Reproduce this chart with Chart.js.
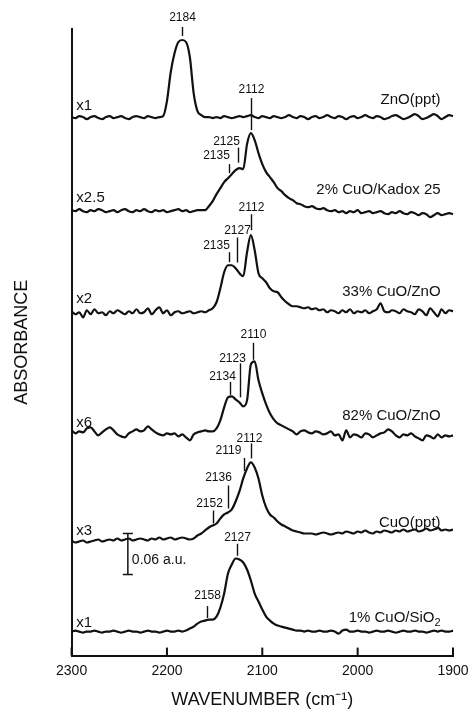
<!DOCTYPE html>
<html>
<head>
<meta charset="utf-8">
<script src="https://cdn.jsdelivr.net/npm/chart.js@4/dist/chart.umd.min.js"></script>
<style>
  html, body { margin: 0; padding: 0; background: #fff; }
</style>
</head>
<body>
<canvas id="irChart" width="470" height="712"></canvas>
<script>
// wavenumber grid (cm-1), shared by all spectra
const wavenumbers = [
  2300, 2296, 2292, 2288, 2284, 2280, 2276, 2272, 2268, 2264,
  2260, 2256, 2252, 2248, 2244, 2240, 2236, 2232, 2228, 2224,
  2220, 2216, 2212, 2208, 2204, 2200, 2196, 2192, 2188, 2184,
  2180, 2176, 2172, 2168, 2164, 2160, 2156, 2152, 2148, 2144,
  2140, 2136, 2132, 2128, 2124, 2120, 2116, 2112, 2108, 2104,
  2100, 2096, 2092, 2088, 2084, 2080, 2076, 2072, 2068, 2064,
  2060, 2056, 2052, 2048, 2044, 2040, 2036, 2032, 2028, 2024,
  2020, 2016, 2012, 2008, 2004, 2000, 1996, 1992, 1988, 1984,
  1980, 1976, 1972, 1968, 1964, 1960, 1956, 1952, 1948, 1944,
  1940, 1936, 1932, 1928, 1924, 1920, 1916, 1912, 1908, 1904,
  1900
];

// absorbance above each trace's own baseline (scaled as plotted)
const znoPpt = [
  0, -1, 1, 0, -2, 0, 1, -1, -2, 0,
  1, -1, 0, 1, -1, -2, 0, 1, 0, -1,
  1, 0, -1, 0, 1, 16, 45, 64, 75, 77,
  75, 60, 24, 6, 2, 0, 0, -1, 0, -1,
  1, 0, -1, 0, 1, 0, 1, 2, 0, -1,
  1, 0, -1, 1, 0, -1, 0, 2, 0, -1,
  1, 0, -2, 0, 1, -1, 0, 2, 0, -1,
  1, 0, -2, 0, 1, -1, 0, 2, 0, -1,
  1, 0, -2, -1, 1, 2, 0, -2, -1, 1,
  3, 1, -2, -1, 1, 3, 1, -2, 0, 2,
  1
];
const cuoKadox = [
  1, 0, 2, 0, -1, 1, 0, 2, 1, -1,
  0, 1, -1, 1, 2, 0, -1, 1, 0, 2,
  0, -1, 1, 0, 1, -1, 0, 1, 2, 0,
  1, -1, 0, 1, 1, 1, 5, 10, 17, 23,
  29, 33, 37, 41, 43, 42, 67, 78, 71, 58,
  47, 39, 34, 29, 23, 20, 16, 13, 11, 8,
  7, 5, 4, 5, 3, 2, 3, 1, 0, 1,
  -1, 0, -2, 0, -1, 1, -2, -1, 0, -2,
  -1, 0, -2, -3, -1, -2, 0, -2, -3, -1,
  -2, -4, -2, -3, -6, -4, -2, -4, -3, -2,
  -3
];
const cuo33Zno = [
  1, -2, 0, -5, 2, -2, 3, -1, 0, -3,
  1, -1, 2, 0, -2, 1, -1, 3, -1, 0,
  4, -2, 2, 5, -1, 2, -3, 0, 1, -1,
  0, 1, -1, 0, 1, 0, 2, 4, 10, 24,
  40, 47, 47, 44, 39, 36, 60, 77, 62, 39,
  34, 30, 24, 21, 20, 15, 11, 8, 6, 6,
  5, 4, 5, 3, 4, 2, 3, 0, 2, 1,
  -1, 2, 0, 3, -1, 1, 0, 2, -1, 1,
  3, 9, 1, 0, 2, 1, -1, 3, 1, 0,
  -2, 3, 1, -3, 4, 0, -4, 3, -1, 2,
  1
];
const cuo82Zno = [
  2, -1, 1, 0, 4, 5, 1, -3, 0, 3,
  5, 2, -2, -4, -5, -1, 1, 3, 1, 2,
  6, 3, 0, -2, -3, -1, -2, -1, -4, -2,
  -5, -8, -2, 0, 1, 2, 1, 1, 4, 12,
  25, 35, 36, 33, 30, 26, 32, 68, 71, 52,
  39, 28, 19, 13, 9, 7, 5, 3, 1, -2,
  1, 2, 0, -1, 1, 0, -2, -1, 1, -3,
  -2, -8, 2, -5, -2, -3, -5, -1, -2, -5,
  -3, -1, 0, 3, 1, -3, -5, -2, -3, -1,
  -4, -6, -8, -3, -4, -6, -2, -5, -3, -4,
  -3
];
const cuoPpt = [
  0, -2, -1, 0, -2, -1, 0, 1, -1, 0,
  1, 0, 2, 0, 1, 2, 0, 1, 2, 1,
  0, 2, 1, 3, 1, 2, 3, 1, 2, 3,
  2, 1, 2, 5, 7, 10, 13, 15, 17, 22,
  26, 28, 31, 39, 49, 62, 72, 78, 73, 62,
  45, 33, 26, 23, 19, 16, 14, 12, 10, 9,
  8, 7, 7, 7, 6, 7, 8, 7, 6, 7,
  8, 7, 9, 8, 7, 9, 8, 10, 8, 7,
  9, 8, 10, 9, 8, 10, 9, 11, 9, 10,
  11, 9, 10, 12, 10, 11, 13, 10, 11, 10,
  11
];
const cuoSio2 = [
  0, 1, 0, -1, 0, 0, 1, 0, -1, 0,
  0, 1, 0, -1, 0, 1, 0, 0, -1, 0,
  1, 0, 0, -1, 0, 1, 0, 0, 1, 0,
  1, 3, 5, 8, 10, 11, 12, 12, 15, 24,
  38, 58, 67, 73, 72, 69, 62, 51, 38, 30,
  22, 15, 11, 8, 6, 5, 4, 3, 2, 1,
  1, 0, 1, 0, 0, 1, 0, 0, 1, 0,
  -2, 1, 2, 0, 0, 1, 0, 0, -1, 0,
  1, 0, 0, 1, 0, -1, 0, 1, 0, 0,
  1, 0, 0, -1, 0, 1, 0, 1, 0, 0,
  1
];

const spectra = [znoPpt, cuoKadox, cuo33Zno, cuo82Zno, cuoPpt, cuoSio2];
const sampleNames = ['ZnO(ppt)', '2% CuO/Kadox 25', '33% CuO/ZnO', '82% CuO/ZnO', 'CuO(ppt)', '1% CuO/SiO'];
const nameSubscripts = ['', '', '', '', '', '2'];
const multipliers = ['x1', 'x2.5', 'x2', 'x6', 'x3', 'x1'];
const peakWavenumbers = [
  [2184],
  [2112, 2125, 2135],
  [2112, 2127, 2135],
  [2110, 2123, 2134],
  [2112, 2119, 2136, 2152],
  [2127, 2158]
];
const xTicks = [2300, 2200, 2100, 2000, 1900];
const scaleBarLabel = '0.06 a.u.';

// ---- layout / style ----
const ink = '#111111';
const FONT = '"Liberation Sans", Arial, Helvetica, sans-serif';
const traceOffsets = [538, 444, 343, 223, 115, 24];   // vertical stacking of the traces
const nameLift = [17, 21, 20, 17, 18, 14];
const multLift = [11, 13, 13, 10, 10, 9];
const nameRightWn = 1913;
const multLeftWn = 2295;
// [gap above curve, tick length, text dx, text lift above tick]
const peakMarkLayout = [
  [[4, 9, 0, 9]],
  [[3, 32, 0, 8], [6, 15, -12, 6], [4, 9, -13, 8]],
  [[5, 16, 0, 7], [7, 25, 0, 7], [3, 10, -13, 7]],
  [[3, 17, 0, 8], [6, 34, -8, 5], [2, 13, -8, 5]],
  [[4, 15, -2, 5], [5, 13, -16, 7], [4, 23, -10, 8], [2, 13, -4, 7]],
  [[3, 12, 0, 6], [2, 12, 0, 10]]
];
const scaleBarWn = 2241;
const scaleBarEnds = [57, 98];

function valueAt(series, wn) {
  for (let i = 0; i < wavenumbers.length - 1; i++) {
    const a = wavenumbers[i], b = wavenumbers[i + 1];
    if (wn <= a && wn >= b) {
      const f = (a - wn) / (a - b);
      return series[i] + f * (series[i + 1] - series[i]);
    }
  }
  return 0;
}

const datasets = spectra.map((s, t) => ({
  label: sampleNames[t],
  data: wavenumbers.map((w, i) => ({ x: w, y: traceOffsets[t] + s[i] })),
  borderColor: ink,
  borderWidth: 2.2,
  pointRadius: 0,
  cubicInterpolationMode: 'monotone',
  clip: false
}));

datasets.push({
  label: 'scale',
  data: scaleBarEnds.map(v => ({ x: scaleBarWn, y: traceOffsets[5] + v })),
  borderColor: ink,
  borderWidth: 1.5,
  pointStyle: 'line',
  pointRadius: 5,
  pointBorderWidth: 1.5,
  pointBorderColor: ink,
  clip: false
});

const innerTicks = {
  id: 'innerTicks',
  afterDraw(chart) {
    const x = chart.scales.x, ctx = chart.ctx, bottom = chart.chartArea.bottom;
    ctx.save();
    ctx.strokeStyle = ink;
    ctx.lineWidth = 2;
    xTicks.forEach(v => {
      const px = x.getPixelForValue(v);
      ctx.beginPath();
      ctx.moveTo(px, bottom);
      ctx.lineTo(px, bottom - 8);
      ctx.stroke();
    });
    ctx.restore();
  }
};

const annotations = {
  id: 'annotations',
  afterDatasetsDraw(chart) {
    const x = chart.scales.x, y = chart.scales.y, ctx = chart.ctx;
    ctx.save();
    ctx.fillStyle = ink;
    ctx.strokeStyle = ink;
    ctx.textBaseline = 'middle';

    spectra.forEach((s, t) => {
      const base = traceOffsets[t];
      // sample name, right side
      const xr = x.getPixelForValue(nameRightWn);
      const yn = y.getPixelForValue(base + nameLift[t]);
      ctx.font = '11px ' + FONT;
      const subW = nameSubscripts[t] ? ctx.measureText(nameSubscripts[t]).width : 0;
      ctx.font = '15px ' + FONT;
      ctx.textAlign = 'right';
      ctx.fillText(sampleNames[t], xr - subW, yn);
      if (nameSubscripts[t]) {
        ctx.font = '11px ' + FONT;
        ctx.textAlign = 'left';
        ctx.fillText(nameSubscripts[t], xr - subW, yn + 5);
      }
      // multiplier, left side
      ctx.font = '15px ' + FONT;
      ctx.textAlign = 'left';
      ctx.fillText(multipliers[t], x.getPixelForValue(multLeftWn), y.getPixelForValue(base + multLift[t]));

      // peak marks
      ctx.font = '12px ' + FONT;
      ctx.textAlign = 'center';
      ctx.lineWidth = 1.4;
      peakWavenumbers[t].forEach((wn, k) => {
        const [gap, len, dx, lift] = peakMarkLayout[t][k];
        const px = Math.round(x.getPixelForValue(wn)) + 0.5;
        const yc = y.getPixelForValue(base + valueAt(s, wn));
        const y1 = yc - gap, y0 = y1 - len;
        ctx.beginPath();
        ctx.moveTo(px, y0);
        ctx.lineTo(px, y1);
        ctx.stroke();
        ctx.fillText(String(wn), px + dx, y0 - lift);
      });
    });

    // scale bar label
    ctx.font = '14px ' + FONT;
    ctx.textAlign = 'left';
    const sbx = x.getPixelForValue(scaleBarWn);
    const sby = y.getPixelForValue(traceOffsets[5] + (scaleBarEnds[0] + scaleBarEnds[1]) / 2);
    ctx.fillText(scaleBarLabel, sbx + 4, sby + 6);
    ctx.restore();
  }
};

new Chart(document.getElementById('irChart'), {
  type: 'line',
  data: { datasets },
  options: {
    responsive: false,
    animation: false,
    devicePixelRatio: 1,
    layout: { padding: { top: 29, right: 17, bottom: 0, left: 0 } },
    plugins: { legend: { display: false }, tooltip: { enabled: false } },
    scales: {
      x: {
        type: 'linear',
        min: 1900,
        max: 2300,
        reverse: true,
        afterBuildTicks: (scale) => { scale.ticks = xTicks.map(v => ({ value: v })); },
        afterFit: (scale) => { scale.paddingLeft = 0; scale.paddingRight = 0; },
        ticks: {
          color: ink,
          font: { family: FONT, size: 14 },
          padding: 7,
          maxRotation: 0,
          callback: (v) => String(v)
        },
        grid: { display: true, drawOnChartArea: false, drawTicks: false },
        border: { display: true, color: ink, width: 2 },
        title: {
          display: true,
          text: 'WAVENUMBER (cm\u207B\u00B9)',
          color: ink,
          font: { family: FONT, size: 18 },
          padding: { top: 3, bottom: 1 }
        }
      },
      y: {
        min: 0,
        max: 626,
        ticks: { display: false },
        grid: { display: true, drawOnChartArea: false, drawTicks: false },
        border: { display: true, color: ink, width: 2 },
        title: {
          display: true,
          text: 'ABSORBANCE',
          color: ink,
          font: { family: FONT, size: 18 },
          padding: { top: 11, bottom: 39 }
        }
      }
    }
  },
  plugins: [innerTicks, annotations]
});
</script>
</body>
</html>
